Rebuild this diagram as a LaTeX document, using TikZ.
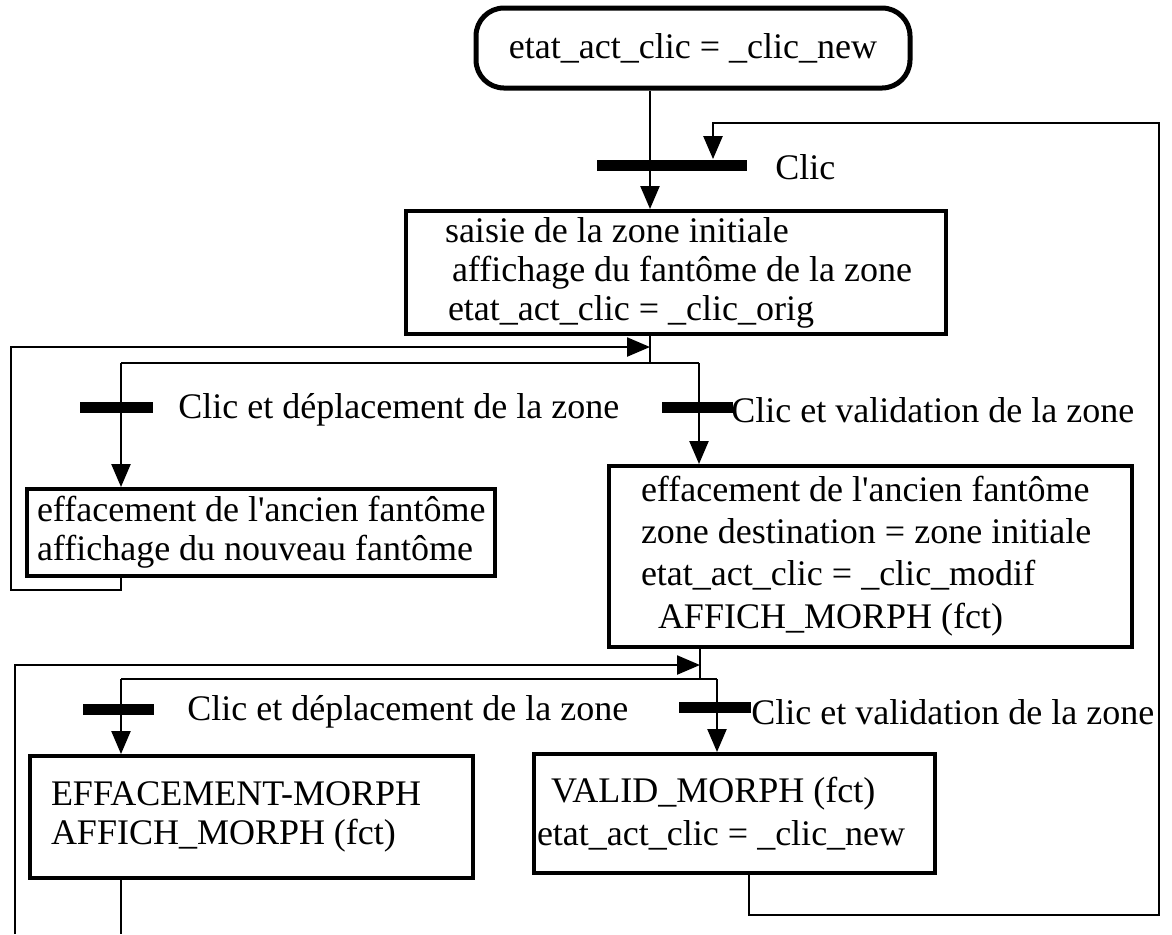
\documentclass[tikz,border=0pt]{standalone}
\usepackage{fontspec}
\setmainfont{Liberation Serif}[Ligatures=TeXOff]
\usetikzlibrary{arrows.meta}
\tikzset{
  etape/.style={draw, line width=2pt, align=flush left, anchor=north west, inner sep=0pt},
  debut/.style={draw, line width=2.5pt, rounded corners=14pt, minimum width=217pt, minimum height=40pt},
  barre/.style={fill=black, minimum height=5.5pt, inner sep=0pt},
  ligne/.style={line width=1.2pt},
  fleche/.style={line width=1.2pt, -{Triangle[length=11.5pt,width=9.5pt]}},
  etiq/.style={anchor=west, inner sep=0pt}
}
\begin{document}
\begin{tikzpicture}[x=0.5pt, y=-0.5pt, font=\fontsize{18}{19.5}\selectfont, line join=miter]
  \useasboundingbox (0,0) rectangle (1172,934);
  % etat initial
  \node[debut] (init) at (693,48) {etat\_act\_clic = \_clic\_new};
  % etapes
  \node[etape, minimum width=270pt, minimum height=61.5pt, text width=270pt] (e1) at (404,209)
    {\hspace*{19.5pt}saisie de la zone initiale\\ \hspace*{23pt}affichage du fantôme de la zone\\ \hspace*{21pt}etat\_act\_clic = \_clic\_orig};
  \node[etape, minimum width=234pt, minimum height=43.5pt, text width=234pt] (e2) at (25,487)
    {\hspace*{5pt}effacement de l'ancien fantôme\\ \hspace*{5pt}affichage du nouveau fantôme};
  \node[etape, minimum width=261.5pt, minimum height=90.5pt, text width=261.5pt] (e3) at (607,464)
    {\hspace*{16pt}effacement de l'ancien fantôme\\[1.5pt] \hspace*{16pt}zone destination = zone initiale\\[1.5pt] \hspace*{16pt}etat\_act\_clic = \_clic\_modif\\[2pt] \hspace*{24.5pt}AFFICH\_MORPH (fct)};
  \node[etape, minimum width=221.5pt, minimum height=61pt, text width=221.5pt] (e4) at (28,754)
    {\hspace*{10.5pt}EFFACEMENT-MORPH\\ \hspace*{10.5pt}AFFICH\_MORPH (fct)};
  \node[etape, minimum width=200.5pt, minimum height=59.5pt, text width=200.5pt] (e5) at (532,752)
    {\hspace*{8.5pt}VALID\_MORPH (fct)\\[2pt] \hspace*{1.5pt}etat\_act\_clic = \_clic\_new};
  % transitions
  \node[barre, minimum width=75pt] (b0) at (672,165) {};
  \node[barre, minimum width=36.5pt] (b1g) at (116.5,407) {};
  \node[barre, minimum width=35.5pt] (b1d) at (697.5,407) {};
  \node[barre, minimum width=35.5pt] (b2g) at (118.5,709) {};
  \node[barre, minimum width=36pt] (b2d) at (715,707) {};
  \node[etiq] (t0) at (775,167) {Clic};
  \node[etiq] (t1g) at (178,410) {Clic et déplacement de la zone};
  \node[etiq] (t1d) at (731,410) {Clic et validation de la zone};
  \node[etiq] (t2g) at (187,712) {Clic et déplacement de la zone};
  \node[etiq] (t2d) at (751,712) {Clic et validation de la zone};
  % points de passage
  \coordinate (m0) at (650,165);
  \coordinate (r0) at (713,123);
  \coordinate (r1) at (1159,123);
  \coordinate (r2) at (1159,915);
  \coordinate (r3) at (749,915);
  \coordinate (m1) at (650,347);
  \coordinate (g1) at (11,347);
  \coordinate (h1) at (11,590);
  \coordinate (k1) at (121,590);
  \coordinate (s1) at (650,363);
  \coordinate (bl1) at (121,363);
  \coordinate (br1) at (699,363);
  \coordinate (m2) at (700,665);
  \coordinate (g2) at (15,665);
  \coordinate (h2) at (15,934);
  \coordinate (s2) at (700,679);
  \coordinate (bl2) at (121,679);
  \coordinate (br2) at (717,679);
  \coordinate (k2) at (121,934);
  % connexions
  \draw[ligne] (init.south -| m0) -- (m0);
  \draw[fleche] (m0) -- (e1.north -| m0);
  \draw[fleche] (e5.south -| r3) -- (r3) -- (r2) -- (r1) -- (r0) -- (b0.north -| r0);
  \draw[ligne] (e1.south -| m1) -- (s1);
  \draw[fleche] (e2.south -| k1) -- (k1) -- (h1) -- (g1) -- (m1);
  \draw[ligne] (bl1) -- (br1);
  \draw[fleche] (bl1) -- (e2.north -| bl1);
  \draw[fleche] (br1) -- (e3.north -| br1);
  \draw[ligne] (e3.south -| m2) -- (s2);
  \draw[fleche] (h2) -- (g2) -- (m2);
  \draw[ligne] (bl2) -- (br2);
  \draw[fleche] (bl2) -- (e4.north -| bl2);
  \draw[fleche] (br2) -- (e5.north -| br2);
  \draw[ligne] (e4.south -| k2) -- (k2);
\end{tikzpicture}
\end{document}
